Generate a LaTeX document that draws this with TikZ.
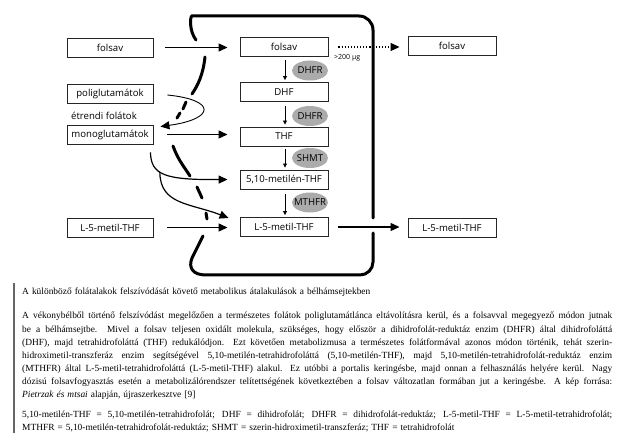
\documentclass[tikz,border=0pt]{standalone}
\usepackage{fontspec}
\setmainfont[WordSpace=1.3]{Liberation Serif}
\newfontfamily\dfont{Open Sans}
\usetikzlibrary{arrows.meta,calc,shapes.geometric}
\newcommand\jline[1]{\hbox to 590pt{#1}}
\begin{document}
\begin{tikzpicture}[x=1pt,y=-1pt,
 dtxt/.style={font=\dfont\fontsize{9.6}{11}\selectfont},
 box/.style={draw=black!85,line width=0.9pt,minimum width=88pt,minimum height=19pt,inner sep=0pt,dtxt},
 lbox/.style={box,minimum width=86pt},
 enz/.style={ellipse,fill=black!33,minimum width=36pt,minimum height=20pt,inner sep=0pt},
 arr/.style={line width=1.2pt,-{Triangle[length=9pt,width=8pt]}},
 sarr/.style={line width=0.8pt,-{Triangle[length=4pt,width=4pt]}},
 wall/.style={line width=3pt,line cap=round},
 captxt/.style={anchor=base west,inner sep=0pt,font=\fontsize{9.4}{11}\selectfont}]
\useasboundingbox (0,0) rectangle (626,435);
% left column
\node[lbox] (lfol) at (110,47.5) {folsav};
\node[lbox] (lpoli) at (110,94) {poliglutamátok};
\node[dtxt,inner sep=0pt] (etr) at (104,116) {étrendi folátok};
\node[lbox] (lmono) at (110,134.5) {monoglutamátok};
\node[lbox] (ll5) at (110,227.5) {L-5-metil-THF};
% centre column
\node[box] (cfol) at (284,47) {folsav};
\node[box] (dhf) at (284,92) {DHF};
\node[box] (thf) at (284,136.5) {THF};
\node[box] (m510) at (284,179.5) {5,10-metilén-THF};
\node[box] (cl5) at (284,227) {L-5-metil-THF};
% right column
\node[box] (rfol) at (452,46) {folsav};
\node[box] (rl5) at (452,227.5) {L-5-metil-THF};
% enzymes
\node[enz] (e1) at (310,70.5) {};
\node[dtxt] at (e1) {DHFR};
\node[enz] (e2) at (310,116) {};
\node[dtxt] at (e2) {DHFR};
\node[enz] (e3) at (310,158) {};
\node[dtxt] at (e3) {SHMT};
\node[enz] (e4) at (310,202.5) {};
\node[dtxt] at (e4) {MTHFR};
% vertical arrows
\draw[sarr] ($(cfol.south)+(1,3)$) -- ($(dhf.north)+(1,-2)$);
\draw[sarr] ($(dhf.south)+(1,4)$) -- ($(thf.north)+(1,-2)$);
\draw[sarr] ($(thf.south)+(1,3)$) -- ($(m510.north)+(1,-2)$);
\draw[sarr] ($(m510.south)+(1,5)$) -- ($(cl5.north)+(1,-2)$);
% horizontal arrows
\draw[arr] ($(lfol.east)+(12,0)$) -- ($(lfol.east -| cfol.west)+(-12,0)$);
\draw[arr] ($(lmono.east)+(14,0)$) -- ($(lmono.east -| thf.west)+(-12,0)$);
\draw[arr] ($(ll5.east)+(14,0)$) -- ($(ll5.east -| cl5.west)+(-12,0)$);
\draw[line width=1.1pt,dotted,-{Triangle[length=9pt,width=8pt]}] ($(cfol.east)+(10,0)$) -- ($(cfol.east -| rfol.west)+(-8,0)$);
\node[font=\dfont\fontsize{7}{8}\selectfont,anchor=west,inner sep=0pt] (dose) at (334,58) {>200 µg};
\draw[arr] ($(cl5.east)+(10,0)$) -- ($(cl5.east -| rl5.west)+(-8,0)$);
% curved arrows
\draw[line width=0.9pt,-{Triangle[length=9pt,width=8pt]}] ($(lpoli.east)+(14,1)$) .. controls (217,100) and (215,119) .. ($(lmono.north east)+(7,2)$);
\draw[arr] ($(lmono.south east)+(-3,8)$) .. controls (151,175) and (165,180) .. ($(m510.west)+(-12,0)$) coordinate[pos=0.4] (br);
\draw[arr] (br) .. controls (160,205) and (190,203) .. ($(cl5.west)+(-11,-9)$);
% cell wall
\draw[wall,rounded corners=14pt] (196,40) .. controls (189,31) and (190,16) .. (206,16) -- (373,16) -- (373,218);
\draw[wall] (205,57) .. controls (203,75) and (198,85) .. (192,94);
\draw[wall] (186,102) -- (183,109);
\draw[wall] (180,113) -- (177,118);
\draw[wall] (173,146) .. controls (178,160) and (185,168) .. (190,176);
\draw[wall] (197,187) -- (202,198);
\draw[wall] (206,213) -- (207,219);
\draw[wall] (203,236) -- (192,258) .. controls (188,268) and (193,275) .. (206,275) [rounded corners=13pt] -- (373,275) -- (373,233);
% caption
\draw[black!60,line width=2pt] (14,283) -- (14,433);
\node[captxt] (c0) at (22,295) {A különböző folátalakok felszívódását követő metabolikus átalakulások a bélhámsejtekben};
\node[captxt] (c1) at (22,319) {\jline{A vékonybélből történő felszívódást megelőzően a természetes folátok poliglutamátlánca eltávolításra kerül, és a folsavval megegyező módon jutnak}};
\node[captxt] (c2) at (22,332) {\jline{be a bélhámsejtbe. Mivel a folsav teljesen oxidált molekula, szükséges, hogy először a dihidrofolát-reduktáz enzim (DHFR) által dihidrofoláttá}};
\node[captxt] (c3) at (22,345) {\jline{(DHF), majd tetrahidrofoláttá (THF) redukálódjon. Ezt követően metabolizmusa a természetes folátformával azonos módon történik, tehát szerin-}};
\node[captxt] (c4) at (22,358) {\jline{hidroximetil-transzferáz enzim segítségével 5,10-metilén-tetrahidrofoláttá (5,10-metilén-THF), majd 5,10-metilén-tetrahidrofolát-reduktáz enzim}};
\node[captxt] (c5) at (22,371) {\jline{(MTHFR) által L-5-metil-tetrahidrofoláttá (L-5-metil-THF) alakul. Ez utóbbi a portalis keringésbe, majd onnan a felhasználás helyére kerül. Nagy}};
\node[captxt] (c6) at (22,384) {\jline{dózisú folsavfogyasztás esetén a metabolizálórendszer telítettségének következtében a folsav változatlan formában jut a keringésbe. A kép forrása:}};
\node[captxt] (c7) at (22,397) {\textit{Pietrzak és mtsai} alapján, újraszerkesztve [9]};
\node[captxt] (c8) at (22,417) {\jline{5,10-metilén-THF = 5,10-metilén-tetrahidrofolát; DHF = dihidrofolát; DHFR = dihidrofolát-reduktáz; L-5-metil-THF = L-5-metil-tetrahidrofolát;}};
\node[captxt] (c9) at (22,430) {MTHFR = 5,10-metilén-tetrahidrofolát-reduktáz; SHMT = szerin-hidroximetil-transzferáz; THF = tetrahidrofolát};
\end{tikzpicture}
\end{document}
